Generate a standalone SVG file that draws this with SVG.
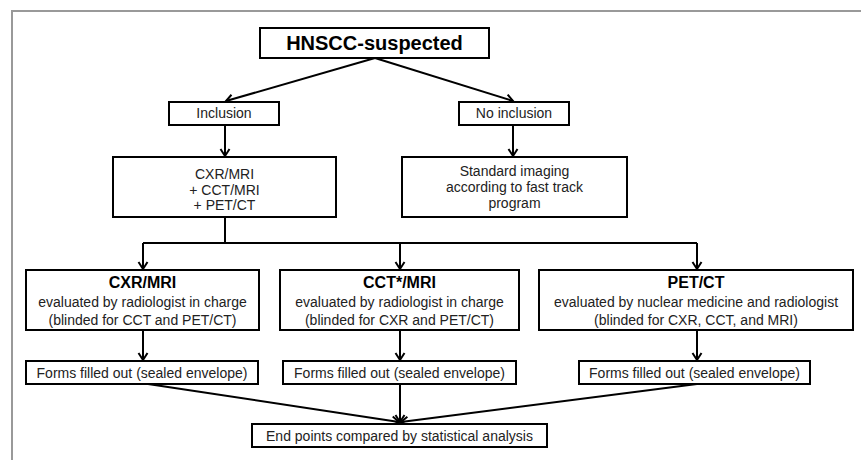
<svg xmlns="http://www.w3.org/2000/svg" width="861" height="460" viewBox="0 0 861 460">
<style>
.box{fill:#fff;stroke:#000;stroke-width:2}
.t{font-family:"Liberation Sans",Arial,sans-serif;font-size:14px;fill:#222;text-anchor:middle}
.b{font-family:"Liberation Sans",Arial,sans-serif;font-size:16px;font-weight:bold;fill:#000;text-anchor:middle}
.c{fill:none;stroke:#000;stroke-width:2}
</style>
<defs>
<marker id="ah" markerWidth="12" markerHeight="12" refX="9" refY="6" orient="auto" markerUnits="userSpaceOnUse">
<path d="M2,1.5 L9,6 L2,10.5" fill="none" stroke="#000" stroke-width="2"/>
</marker>
</defs>
<rect width="861" height="460" fill="#fff"/>
<path d="M12,460 V11 H861" fill="none" stroke="#999" stroke-width="2"/>
<g id="connectors">
<path class="c" d="M375,58 L226,101" marker-end="url(#ah)"/>
<path class="c" d="M375,58 L513,101" marker-end="url(#ah)"/>
<path class="c" d="M225,125 V156" marker-end="url(#ah)"/>
<path class="c" d="M513,125 V156" marker-end="url(#ah)"/>
<path class="c" d="M225,217 V243"/>
<path class="c" d="M143,243 H697"/>
<path class="c" d="M143,243 V269" marker-end="url(#ah)"/>
<path class="c" d="M400,243 V269" marker-end="url(#ah)"/>
<path class="c" d="M697,243 V269" marker-end="url(#ah)"/>
<path class="c" d="M143,330 V360" marker-end="url(#ah)"/>
<path class="c" d="M400,330 V360" marker-end="url(#ah)"/>
<path class="c" d="M697,330 V360" marker-end="url(#ah)"/>
<path class="c" d="M148,384 L399,422" marker-end="url(#ah)"/>
<path class="c" d="M400,384 V422" marker-end="url(#ah)"/>
<path class="c" d="M697,384 L401,422" marker-end="url(#ah)"/>
</g>
<g id="hnscc">
<rect class="box" x="260" y="28" width="229" height="30"/>
<text class="b" x="374.5" y="50" style="font-size:20px">HNSCC-suspected</text>
</g>
<g id="inclusion">
<rect class="box" x="169" y="102" width="110" height="23"/>
<text class="t" x="224" y="118">Inclusion</text>
</g>
<g id="no-inclusion">
<rect class="box" x="459" y="102" width="110" height="23"/>
<text class="t" x="514" y="118">No inclusion</text>
</g>
<g id="combined">
<rect class="box" x="113" y="157" width="223" height="60"/>
<text class="t" x="224.5" y="179">CXR/MRI</text>
<text class="t" x="224.5" y="194.5">+ CCT/MRI</text>
<text class="t" x="224.5" y="210">+ PET/CT</text>
</g>
<g id="standard">
<rect class="box" x="402" y="157" width="225" height="60"/>
<text class="t" x="514.5" y="176">Standard imaging</text>
<text class="t" x="514.5" y="192">according to fast track</text>
<text class="t" x="514.5" y="208">program</text>
</g>
<g id="cxr">
<rect class="box" x="26" y="270" width="233" height="60"/>
<text class="b" x="142.5" y="288">CXR/MRI</text>
<text class="t" x="142.5" y="307">evaluated by radiologist in charge</text>
<text class="t" x="142.5" y="325">(blinded for CCT and PET/CT)</text>
</g>
<g id="cct">
<rect class="box" x="280" y="270" width="239" height="60"/>
<text class="b" x="399.5" y="288">CCT*/MRI</text>
<text class="t" x="399.5" y="307">evaluated by radiologist in charge</text>
<text class="t" x="399.5" y="325">(blinded for CXR and PET/CT)</text>
</g>
<g id="pet">
<rect class="box" x="539" y="270" width="314" height="60"/>
<text class="b" x="696" y="288">PET/CT</text>
<text class="t" x="696" y="307">evaluated by nuclear medicine and radiologist</text>
<text class="t" x="696" y="325">(blinded for CXR, CCT, and MRI)</text>
</g>
<g id="forms1">
<rect class="box" x="26" y="361" width="232" height="23"/>
<text class="t" x="142" y="378">Forms filled out (sealed envelope)</text>
</g>
<g id="forms2">
<rect class="box" x="283" y="361" width="233" height="23"/>
<text class="t" x="399.5" y="378">Forms filled out (sealed envelope)</text>
</g>
<g id="forms3">
<rect class="box" x="579" y="361" width="231" height="23"/>
<text class="t" x="694.5" y="378">Forms filled out (sealed envelope)</text>
</g>
<g id="endpoints">
<rect class="box" x="252" y="424" width="295" height="23"/>
<text class="t" x="399.5" y="441">End points compared by statistical analysis</text>
</g>
</svg>
